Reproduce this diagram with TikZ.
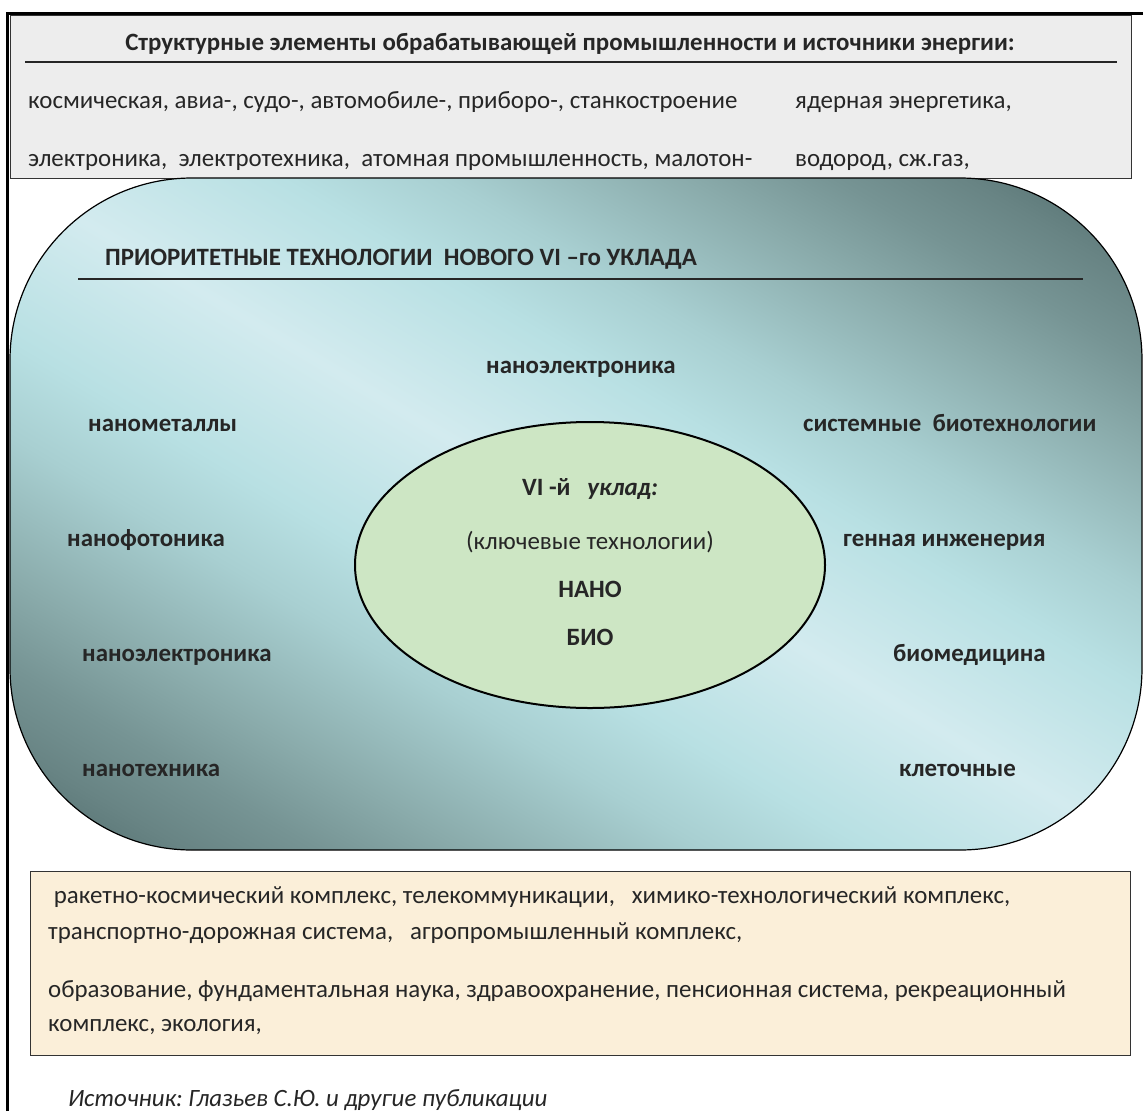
\documentclass[tikz,border=0pt]{standalone}
\usepackage{fontspec}
\setmainfont{Carlito}
\usetikzlibrary{shapes.geometric}
\definecolor{txt}{HTML}{262626}
\definecolor{topfill}{HTML}{EDEDED}
\definecolor{botfill}{HTML}{FBEFD9}
\definecolor{ellfill}{HTML}{CDE6C4}
\definecolor{sA}{HTML}{5E7A7A}
\definecolor{sB}{HTML}{688484}
\definecolor{sC}{HTML}{769494}
\definecolor{sD}{HTML}{8AABAB}
\definecolor{sE}{HTML}{A8CFD1}
\definecolor{sF}{HTML}{B8E0E3}
\definecolor{sG}{HTML}{D3EBEF}
\pgfdeclareverticalshading{regshade}{100bp}{color(0bp)=(sA); color(19bp)=(sA); color(21bp)=(sB); color(25bp)=(sC); color(29.5bp)=(sD); color(36.8bp)=(sE); color(41.8bp)=(sF); color(50bp)=(sG); color(58.2bp)=(sF); color(63.2bp)=(sE); color(70.5bp)=(sD); color(75bp)=(sC); color(79bp)=(sB); color(81bp)=(sA); color(100bp)=(sA)}
\newcommand{\fsz}{\fontsize{24.9}{29}\selectfont}
\tikzset{
  lbl/.style={anchor=base west, inner sep=0pt, text=txt, font=\fsz\bfseries},
  reg/.style={anchor=base west, inner sep=0pt, text=txt, font=\fsz},
  ctr/.style={anchor=base, inner sep=0pt, text=txt, font=\fsz},
  rule/.style={line width=1.4pt, draw=txt}
}
\begin{document}
\frenchspacing
\begin{tikzpicture}[x=1pt,y=-1pt]
\useasboundingbox (0,0) rectangle (1143,1111);
\fill[white] (0,0) rectangle (1143,1111);
% top box
\node[draw=black!80, line width=0.8pt, fill=topfill, minimum width=1121pt, minimum height=163pt, anchor=north west, inner sep=0pt] (topbox) at (10,15) {};
% outer frame
\draw[line width=3pt] (7,1111) -- (7,13) -- (1143,13);
\node[lbl, anchor=base] (toptitle) at (570,50) {Структурные элементы обрабатывающей промышленности и источники энергии:};
\coordinate (tl1) at (25,62); \coordinate (tl2) at (1117,62);
\draw[rule] (tl1) -- (tl2);
\node[reg] (t1a) at (28,108) {космическая, авиа-, судо-, автомобиле-, приборо-, станкостроение};
\node[reg] (t1b) at (795,108) {ядерная энергетика,};
\node[reg] (t2a) at (28,166) {электроника,\ \ электротехника,\ \ атомная промышленность, малотон-};
\node[reg] (t2b) at (795,166) {водород, сж.газ,};
% rounded region
\path[draw=black, line width=1.2pt, shading=regshade, shading angle=-30.7,
      rounded corners=182pt] (10,178) rectangle (1142,850);
\node[lbl] (title) at (105,265) {ПРИОРИТЕТНЫЕ ТЕХНОЛОГИИ\ \ НОВОГО VI –го УКЛАДА};
\coordinate (ul1) at (78,279); \coordinate (ul2) at (1083,279);
\draw[rule] (ul1) -- (ul2);
\node[lbl] (nel1) at (486,373) {наноэлектроника};
\node[lbl] (nm) at (88,431) {нанометаллы};
\node[lbl] (nf) at (67,546) {нанофотоника};
\node[lbl] (nel2) at (82,661) {наноэлектроника};
\node[lbl] (nt) at (82,776) {нанотехника};
\node[lbl] (sb) at (803,431) {системные\ \ биотехнологии};
\node[lbl] (gi) at (843,546) {генная инженерия};
\node[lbl] (bm) at (893,661) {биомедицина};
\node[lbl] (kl) at (899,776) {клеточные};
% ellipse
\node[ellipse, draw=black, line width=2pt, fill=ellfill, minimum width=470pt, minimum height=286pt, inner sep=0pt] (ell) at (590,565) {};
\node[ctr, font=\fsz\bfseries] (e1) at (590,495) {VI -й\ \ \ \textit{уклад:}};
\node[ctr] (e2) at (590,549) {(ключевые технологии)};
\node[ctr, font=\fsz\bfseries] (e3) at (590,597) {НАНО};
\node[ctr, font=\fsz\bfseries] (e4) at (590,645) {БИО};
% bottom box
\node[draw=black!80, line width=1pt, fill=botfill, minimum width=1100pt, minimum height=184pt, anchor=north west, inner sep=0pt] (botbox) at (30,871) {};
\node[reg] (b1) at (48,903) {\ ракетно-космический комплекс, телекоммуникации,\ \ \ химико-технологический комплекс,};
\node[reg] (b2) at (48,939) {транспортно-дорожная система,\ \ \ агропромышленный комплекс,};
\node[reg] (b3) at (48,997) {образование, фундаментальная наука, здравоохранение, пенсионная система, рекреационный};
\node[reg] (b4) at (48,1031) {комплекс, экология,};
\node[reg, font=\fsz\itshape] (src) at (68,1106) {Источник: Глазьев С.Ю. и другие публикации};
\end{tikzpicture}
\end{document}
